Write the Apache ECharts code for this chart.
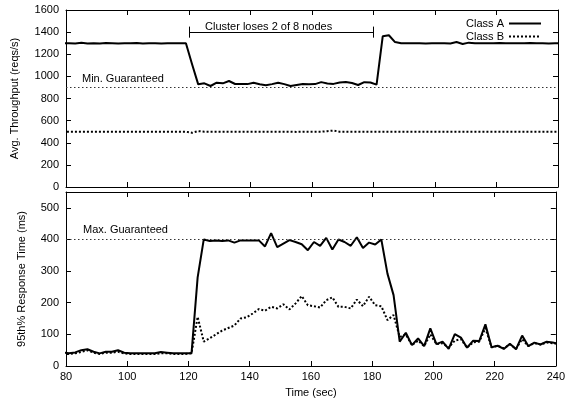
<!DOCTYPE html>
<html><head><meta charset="utf-8">
<script src="https://cdn.jsdelivr.net/npm/echarts@6/dist/echarts.min.js"></script>
<style>html,body{margin:0;padding:0;background:#fff}#c{width:568px;height:404px}</style>
</head><body><div id="c"></div>
<script>
const times = [79,81,83,85,87,89,91,93,95,97,
  99,101,103,105,107,109,111,113,115,117,
  119,121,123,125,127,129,131,133,135,137,
  139,141,143,145,147,149,151,153,155,157,
  159,161,163,165,167,169,171,173,175,177,
  179,181,183,185,187,189,191,193,195,197,
  199,201,203,205,207,209,211,213,215,217,
  219,221,223,225,227,229,231,233,235,237,
  239,241];
const throughputA = [1300,1300,1298,1303,1297,1300,1298,1302,1300,1297,
  1300,1300,1302,1298,1300,1300,1297,1300,1300,1300,
  1300,1110,928,937,913,943,937,958,931,932,
  930,943,928,920,930,943,930,913,922,931,
  928,930,948,935,932,945,950,940,922,948,
  945,925,1362,1372,1310,1300,1300,1300,1300,1298,
  1300,1300,1300,1298,1310,1293,1305,1300,1300,1300,
  1300,1302,1300,1300,1300,1300,1302,1300,1300,1298,
  1300,1300];
const throughputB = [500,500,500,500,500,500,500,500,500,500,
  500,500,500,500,500,500,500,500,500,500,
  500,490,505,500,500,500,500,500,500,500,
  500,500,500,500,500,500,500,500,498,500,
  500,500,500,505,510,500,500,500,500,500,
  500,500,500,500,500,500,500,500,500,500,
  500,500,500,500,500,500,500,500,500,500,
  500,500,500,500,500,500,500,500,500,500,
  500,500];
const responseA = [43,40,43,50,53,45,40,45,45,50,
  42,40,40,40,40,40,44,42,40,40,
  40,40,280,400,395,397,395,397,390,397,
  397,397,397,378,420,376,387,398,392,385,
  366,392,380,405,368,400,392,380,407,373,
  390,384,400,292,224,77,105,66,87,63,
  119,69,77,54,101,90,58,80,79,132,
  59,64,54,70,53,96,63,74,68,77,
  74,70];
const responseB = [38,38,40,45,50,42,38,42,42,45,
  40,38,38,38,38,38,40,40,38,38,
  38,40,155,77,88,100,112,120,128,150,
  154,166,180,175,187,182,195,179,198,221,
  192,189,185,208,217,187,187,182,210,189,
  219,192,189,145,161,92,100,66,80,63,
  100,69,72,58,80,85,58,75,77,120,
  59,64,56,68,55,85,63,72,68,74,
  72,70];
const minGuaranteed = 900;
const maxGuaranteed = 400;
const outageStart = 120, outageEnd = 180;
const outageBarY = 1400, outageTickLow = 1350, outageTickHigh = 1450;
const xTicks = [80, 240, 20];

const FONT = 'Liberation Sans, Arial, sans-serif';
const pair = a => times.map((t, i) => [t, a[i]]);

function xAx(grid, pos, labels, name) {
  return {
    type: 'value', gridIndex: grid, position: pos, min: xTicks[0], max: xTicks[1], interval: xTicks[2],
    axisLine: {show: true, onZero: false, lineStyle: {color: '#000', width: 1}},
    axisTick: {show: true, inside: true, length: 5, lineStyle: {color: '#000'}},
    axisLabel: {show: labels, color: '#000', fontSize: 11, fontFamily: FONT, margin: 5, formatter: v => String(v)},
    splitLine: {show: false},
    name: name || '', nameLocation: 'middle', nameGap: 21,
    nameTextStyle: {color: '#000', fontSize: 11, fontFamily: FONT}
  };
}
function yAx(grid, pos, labels, min, max, interval, name, gap) {
  return {
    type: 'value', gridIndex: grid, position: pos, min: min, max: max, interval: interval,
    axisLine: {show: true, onZero: false, lineStyle: {color: '#000', width: 1}},
    axisTick: {show: true, inside: true, length: 5, lineStyle: {color: '#000'}},
    axisLabel: {show: labels, color: '#000', fontSize: 11, fontFamily: FONT, margin: 7,
      showMaxLabel: max % interval === 0, formatter: v => String(v)},
    splitLine: {show: false},
    name: name || '', nameLocation: 'middle', nameGap: gap || 0,
    nameTextStyle: {color: '#000', fontSize: 11, fontFamily: FONT}
  };
}

const solid = {color: '#000', width: 2, type: 'solid'};
const dotted = {color: '#000', width: 2, type: [2, 2]};
const guide = {color: '#333', width: 1, type: [1.5, 2.5]};

const option = {
  animation: false,
  backgroundColor: '#fff',
  grid: [
    {left: 66, right: 10, top: 10, height: 177},
    {left: 66, right: 10, top: 192, height: 174}
  ],
  xAxis: [
    xAx(0, 'bottom', false), xAx(0, 'top', false),
    xAx(1, 'bottom', true, 'Time (sec)'), xAx(1, 'top', false)
  ],
  yAxis: [
    yAx(0, 'left', true, 0, 1600, 200, 'Avg. Throughput (reqs/s)', 46),
    yAx(0, 'right', false, 0, 1600, 200),
    yAx(1, 'left', true, 0, 550, 100, '95th% Response Time (ms)', 39),
    yAx(1, 'right', false, 0, 550, 100)
  ],
  legend: {
    data: ['Class A', 'Class B'], orient: 'vertical', right: 21, top: 13,
    align: 'right', itemWidth: 32, itemHeight: 10, itemGap: 2,
    itemStyle: {opacity: 0},
    textStyle: {color: '#000', fontSize: 11, fontFamily: FONT}
  },
  graphic: [
    {type: 'text', left: 205, top: 21, style: {text: 'Cluster loses 2 of 8 nodes', fill: '#000', font: '11px ' + FONT}},
    {type: 'text', left: 82, top: 73, style: {text: 'Min. Guaranteed', fill: '#000', font: '11px ' + FONT}},
    {type: 'text', left: 83, top: 224, style: {text: 'Max. Guaranteed', fill: '#000', font: '11px ' + FONT}}
  ],
  series: [
    {name: 'Class A', type: 'line', xAxisIndex: 0, yAxisIndex: 0, data: pair(throughputA), symbol: 'none', lineStyle: solid, itemStyle: {color: '#000'}, clip: true,
     markLine: {silent: true, symbol: 'none', label: {show: false}, lineStyle: {color: '#000', width: 1, type: 'solid'},
       data: [
         [{coord: [outageStart, outageBarY]}, {coord: [outageEnd, outageBarY]}],
         [{coord: [outageStart, outageTickLow]}, {coord: [outageStart, outageTickHigh]}],
         [{coord: [outageEnd, outageTickLow]}, {coord: [outageEnd, outageTickHigh]}]
       ]}},
    {name: 'Class B', type: 'line', xAxisIndex: 0, yAxisIndex: 0, data: pair(throughputB), symbol: 'none', lineStyle: dotted, itemStyle: {color: '#000'}, clip: true,
     markLine: {silent: true, symbol: 'none', label: {show: false}, lineStyle: guide, data: [{yAxis: minGuaranteed}]}},
    {name: 'Class A', type: 'line', xAxisIndex: 2, yAxisIndex: 2, data: pair(responseA), symbol: 'none', lineStyle: solid, itemStyle: {color: '#000'}, clip: true, z: 3},
    {name: 'Class B', type: 'line', xAxisIndex: 2, yAxisIndex: 2, data: pair(responseB), symbol: 'none', lineStyle: dotted, itemStyle: {color: '#000'}, clip: true, z: 2,
     markLine: {silent: true, symbol: 'none', label: {show: false}, lineStyle: guide, data: [{yAxis: maxGuaranteed}]}}
  ]
};
const chart = echarts.init(document.getElementById('c'), null, {renderer: 'canvas'});
chart.setOption(option);
</script></body></html>
